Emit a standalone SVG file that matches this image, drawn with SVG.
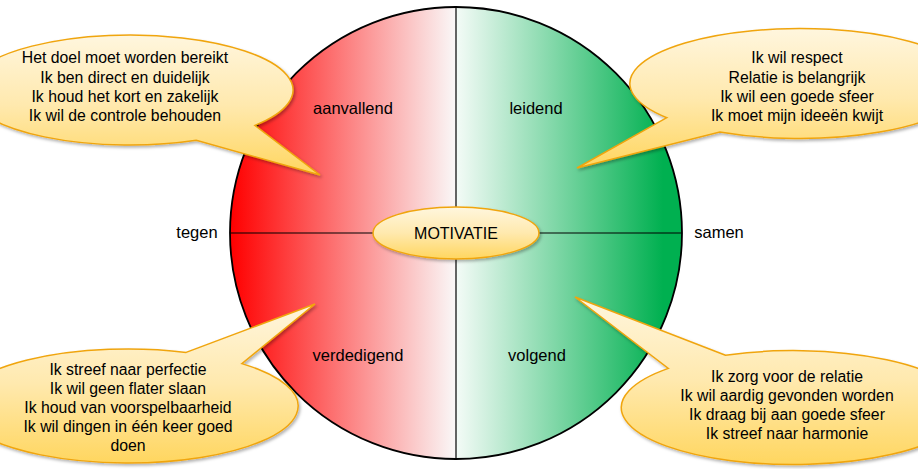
<svg xmlns="http://www.w3.org/2000/svg" width="918" height="469" viewBox="0 0 918 469">
  <defs>
    <linearGradient id="gRed" gradientUnits="userSpaceOnUse" x1="231" y1="0" x2="456" y2="0">
      <stop offset="0" stop-color="#FF0000"/>
      <stop offset="1" stop-color="#FAF8F8"/>
    </linearGradient>
    <linearGradient id="gGreen" gradientUnits="userSpaceOnUse" x1="456" y1="0" x2="681" y2="0">
      <stop offset="0" stop-color="#F4FBF7"/>
      <stop offset="0.92" stop-color="#00B050"/>
      <stop offset="1" stop-color="#00B050"/>
    </linearGradient>
    <linearGradient id="gGold" x1="0" y1="0" x2="0" y2="1">
      <stop offset="0" stop-color="#FFF6DE"/>
      <stop offset="0.5" stop-color="#FFE9AE"/>
      <stop offset="1" stop-color="#FFD65F"/>
    </linearGradient>
    <filter id="shadow" x="-10%" y="-10%" width="120%" height="130%">
      <feDropShadow dx="1.5" dy="2" stdDeviation="1.5" flood-color="#000" flood-opacity="0.3"/>
    </filter>
  </defs>
  <style>
    .bubble { fill: url(#gGold); stroke: #F0A50F; stroke-width: 1.5; filter: url(#shadow); }
    .txt { font-family: "Liberation Sans", Arial, sans-serif; font-size: 15.8px; fill: #000; text-anchor: middle; }
    .lbl { font-family: "Liberation Sans", Arial, sans-serif; font-size: 16.5px; fill: #000; text-anchor: middle; }
    .axis { stroke: #000; stroke-width: 1.2; fill: none; }
  </style>
  <rect width="918" height="469" fill="#FFFFFF"/>

  <g id="circle">
    <path d="M456 7 A226 226 0 0 0 456 459 Z" fill="url(#gRed)"/>
    <path d="M456 7 A226 226 0 0 1 456 459 Z" fill="url(#gGreen)"/>
    <circle cx="456" cy="233" r="226" fill="none" stroke="#000" stroke-width="1.8"/>
  </g>

  <g id="connectors">
    <line class="axis" x1="456" y1="7" x2="456" y2="459"/>
    <line class="axis" x1="230" y1="233" x2="682" y2="233"/>
  </g>

  <g id="aanvallend"><text class="lbl" x="353" y="114">aanvallend</text></g>
  <g id="leidend"><text class="lbl" x="536" y="114">leidend</text></g>
  <g id="verdedigend"><text class="lbl" x="358" y="361">verdedigend</text></g>
  <g id="volgend"><text class="lbl" x="537" y="361">volgend</text></g>
  <g id="tegen"><text class="lbl" x="197" y="238">tegen</text></g>
  <g id="samen"><text class="lbl" x="719" y="238">samen</text></g>

  <g id="motivatie">
    <ellipse class="bubble" cx="456" cy="233" rx="83" ry="26"/>
    <text class="txt" x="456" y="238.5" style="font-size:16px">MOTIVATIE</text>
  </g>

  <g id="callout-tl">
    <path class="bubble" d="M254.9 125.4 L320 175 L196.3 140.3 A163 55 0 1 1 254.9 125.4 Z"/>
    <text class="txt" x="125" y="63">Het doel moet worden bereikt</text>
    <text class="txt" x="125" y="82.5">Ik ben direct en duidelijk</text>
    <text class="txt" x="125" y="102">Ik houd het kort en zakelijk</text>
    <text class="txt" x="125" y="121">Ik wil de controle behouden</text>
  </g>

  <g id="callout-tr">
    <path class="bubble" d="M666.8 117.7 L577 168 L719.8 132 A170 55 0 1 0 666.8 117.7 Z"/>
    <text class="txt" x="797" y="63">Ik wil respect</text>
    <text class="txt" x="797" y="82.5">Relatie is belangrijk</text>
    <text class="txt" x="797" y="102">Ik wil een goede sfeer</text>
    <text class="txt" x="797" y="121">Ik moet mijn ideeën kwijt</text>
  </g>

  <g id="callout-bl">
    <path class="bubble" d="M186.1 352.4 L315 304 L241.8 363.6 A170 57 0 1 1 186.1 352.4 Z"/>
    <text class="txt" x="128" y="375">Ik streef naar perfectie</text>
    <text class="txt" x="128" y="394">Ik wil geen flater slaan</text>
    <text class="txt" x="128" y="413">Ik houd van voorspelbaarheid</text>
    <text class="txt" x="128" y="432">Ik wil dingen in één keer goed</text>
    <text class="txt" x="128" y="450.5">doen</text>
  </g>

  <g id="callout-br">
    <path class="bubble" d="M725.5 355.2 L575 297 L668.4 368.4 A172 57 0 1 0 725.5 355.2 Z"/>
    <text class="txt" x="787" y="382">Ik zorg voor de relatie</text>
    <text class="txt" x="787" y="401">Ik wil aardig gevonden worden</text>
    <text class="txt" x="787" y="420">Ik draag bij aan goede sfeer</text>
    <text class="txt" x="787" y="438.5">Ik streef naar harmonie</text>
  </g>
</svg>
